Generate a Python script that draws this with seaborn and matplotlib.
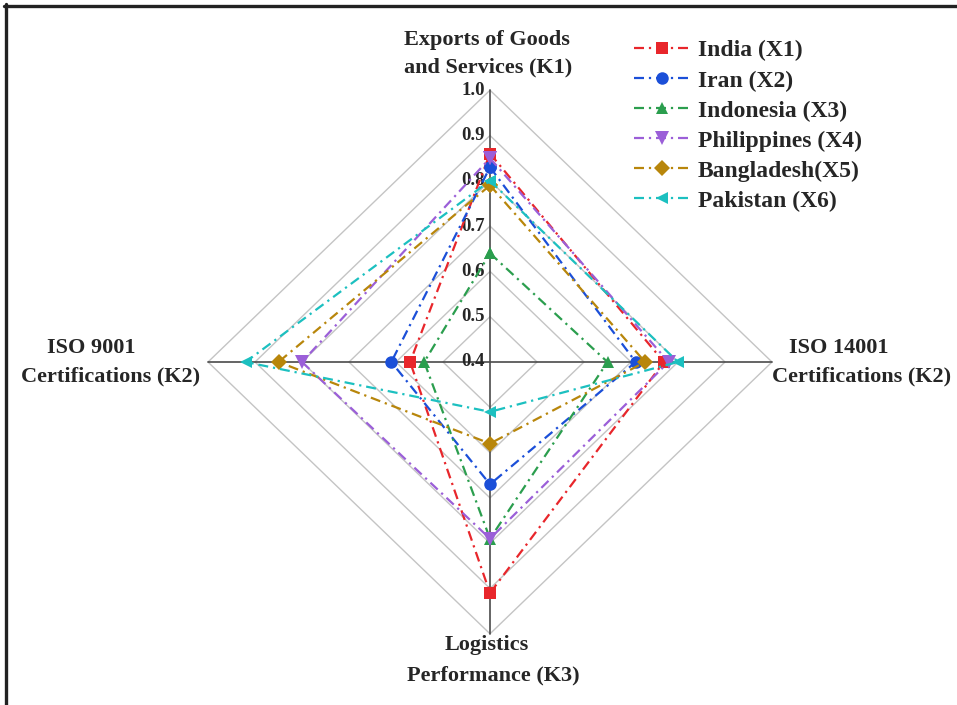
import numpy as np
import pandas as pd
import matplotlib
matplotlib.use("Agg")
import matplotlib.pyplot as plt
from matplotlib.lines import Line2D
import seaborn as sns

# ---- data ----
axes_labels = ["Exports of Goods\nand Services (K1)", "ISO 14001\nCertifications (K2)",
               "Logistics\nPerformance (K3)", "ISO 9001\nCertifications (K2)"]
countries = ["India (X1)", "Iran (X2)", "Indonesia (X3)", "Philippines (X4)",
             "Bangladesh(X5)", "Pakistan (X6)"]
# order: K1 (top), ISO 14001 (right), Logistics K3 (bottom), ISO 9001 (left)
india = [0.86, 0.77, 0.91, 0.57]
iran = [0.83, 0.71, 0.67, 0.61]
indonesia = [0.64, 0.65, 0.79, 0.54]
philippines = [0.85, 0.78, 0.79, 0.80]
bangladesh = [0.79, 0.73, 0.58, 0.85]
pakistan = [0.80, 0.80, 0.51, 0.92]
series = [india, iran, indonesia, philippines, bangladesh, pakistan]
ticks = [0.4, 0.5, 0.6, 0.7, 0.8, 0.9, 1.0]
tick_labels = ["0.4", "0.5", "0.6", "0.7", "0.8", "0.9", "1.0"]

colors = ["#e8262b", "#1b4fd8", "#2b9e4e", "#9b5fd8", "#b8860b", "#1cc0c0"]
markers = ["s", "o", "^", "v", "D", "<"]
msizes = [8.5, 9, 9, 9.5, 8, 9]

rmin, rmax = 0.4, 1.0

sns.set_style("white")
plt.rcParams["font.family"] = ["Liberation Serif", "DejaVu Serif"]
plt.rcParams["font.weight"] = "bold"

W, H = 957, 705
fig = plt.figure(figsize=(W / 100, H / 100), dpi=100)
ax = fig.add_axes([0, 0, 1, 1])
ax.axis("off")

cx, cy = 490, 362
sx, sy = 470.0, 453.0  # pixels per unit
ax.set_xlim(-cx / sx, (W - cx) / sx)
ax.set_ylim((cy - H) / sy, cy / sy)

def px(xp, yp):
    return (xp - cx) / sx, (cy - yp) / sy

dirs = [(0, 1), (1, 0), (0, -1), (-1, 0)]

def to_xy(vals):
    xs, ys = [], []
    for v, (dx, dy) in zip(vals, dirs):
        r = v - rmin
        xs.append(dx * r)
        ys.append(dy * r)
    xs.append(xs[0]); ys.append(ys[0])
    return xs, ys

# grid diamonds
for t in ticks[1:]:
    gx, gy = to_xy([t] * 4)
    ax.plot(gx, gy, color="#c4c4c4", lw=1.0, zorder=1)
# spokes
R = rmax - rmin
ax.plot([-R, R], [0, 0], color="#4a4a4a", lw=1.2, zorder=2)
ax.plot([0, 0], [-R, R], color="#4a4a4a", lw=1.2, zorder=2)

# tick labels
for t, lab in zip(ticks, tick_labels):
    ax.text(px(485, 0)[0], t - rmin, lab, ha="right", va="center",
            fontsize=13.5, fontweight="bold", zorder=3)

# series
for name, vals, c, m, ms in zip(countries, series, colors, markers, msizes):
    xs, ys = to_xy(vals)
    df = pd.DataFrame({"x": xs, "y": ys})
    sns.lineplot(data=df, x="x", y="y", estimator=None, sort=False, ax=ax,
                 color=c, marker=m, markersize=ms, markeredgewidth=0,
                 linestyle=(0, (4.5, 2.2, 1, 2.2)), linewidth=1.6,
                 label=name, zorder=4)

# axis labels
lab_kw = dict(ha="center", va="center", fontsize=16, fontweight="bold")
ax.text(*px(487, 40), "Exports of Goods", **lab_kw)
ax.text(*px(488, 67), "and Services (K1)", **lab_kw)
ax.text(*px(839, 348), "ISO 14001", **lab_kw)
ax.text(*px(862, 376), "Certifications (K2)", **lab_kw)
ax.text(*px(91, 348), "ISO 9001", **lab_kw)
ax.text(*px(111, 376), "Certifications (K2)", **lab_kw)
ax.text(*px(487, 645), "Logistics", **lab_kw)
ax.text(*px(493, 675), "Performance (K3)", **lab_kw)

leg = ax.legend(loc="upper left", bbox_to_anchor=(634 / W, 1 - 40 / H),
                bbox_transform=fig.transFigure, frameon=False,
                prop={"family": "Liberation Serif", "weight": "bold", "size": 17},
                handlelength=2.4, handletextpad=0.3, labelspacing=0.36,
                borderpad=0, borderaxespad=0)

# outer frame (top and left edges)
fig.add_artist(Line2D([4 / W, 1], [1 - 5.5 / H, 1 - 5.5 / H], transform=fig.transFigure,
                      color="#222222", lw=2.4))
fig.add_artist(Line2D([5.5 / W, 5.5 / W], [0, 1 - 4 / H], transform=fig.transFigure,
                      color="#222222", lw=2.4))

fig.savefig("out.png", dpi=100)
